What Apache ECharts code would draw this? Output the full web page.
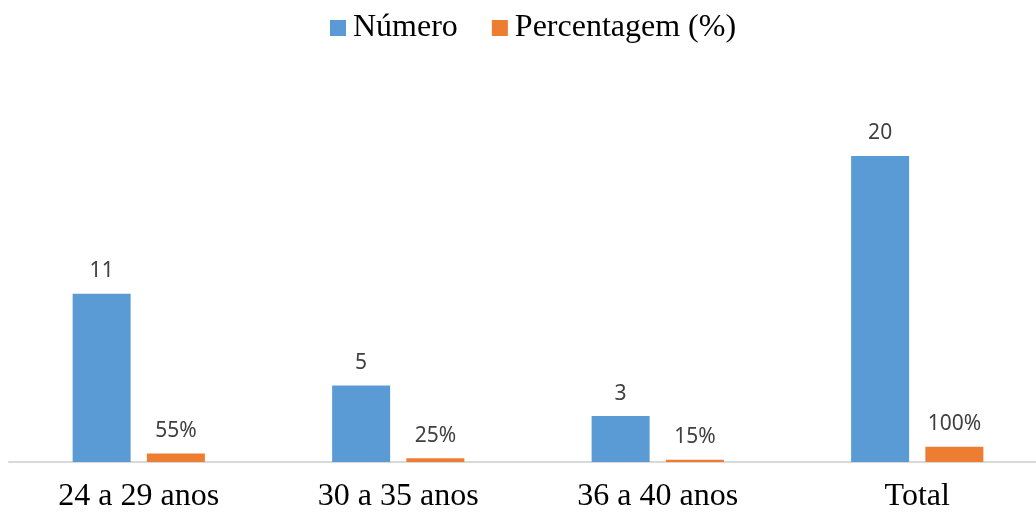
<!DOCTYPE html>
<html>
<head>
<meta charset="utf-8">
<script src="https://cdn.jsdelivr.net/npm/echarts@6/dist/echarts.min.js"></script>
<style>html,body{margin:0;padding:0;background:#fff;overflow:hidden}#c{width:1047px;height:513px}</style>
</head>
<body>
<div id="c"></div>
<script>
const categories = ['24 a 29 anos', '30 a 35 anos', '36 a 40 anos', 'Total'];
const numero = [11, 5, 3, 20];
const percentagem = [0.55, 0.25, 0.15, 1.00];
const seriesNames = ['Número', 'Percentagem (%)'];

const chart = echarts.init(document.getElementById('c'), null, {renderer: 'canvas'});
const labelStyle = {
  show: true, position: 'top', distance: 12,
  fontFamily: 'Noto Sans', fontSize: 21, color: '#404040'
};
chart.setOption({
  animation: false,
  legend: {
    left: 325, top: 7,
    itemWidth: 16, itemHeight: 16, itemGap: 34,
    icon: 'rect',
    textStyle: {fontFamily: 'Liberation Serif', fontSize: 32, color: '#000', padding: [0, 0, 0, 2]},
    data: seriesNames
  },
  grid: {left: 9, right: 0, top: 156, bottom: 51, containLabel: false},
  xAxis: {
    type: 'category', data: categories,
    axisLine: {lineStyle: {color: '#D9D9D9', width: 2}},
    axisTick: {show: false},
    axisLabel: {fontFamily: 'Liberation Serif', fontSize: 32, color: '#000', margin: 19}
  },
  yAxis: {type: 'value', min: 0, max: 20, show: false, splitLine: {show: false}},
  series: [
    {
      name: seriesNames[0], type: 'bar', data: numero,
      barWidth: 58, barGap: '28%',
      itemStyle: {color: '#5B9BD5'},
      label: labelStyle
    },
    {
      name: seriesNames[1], type: 'bar', data: percentagem,
      barWidth: 58,
      itemStyle: {color: '#ED7D31'},
      label: Object.assign({}, labelStyle, {formatter: p => Math.round(p.value * 100) + '%'})
    }
  ]
});
</script>
</body>
</html>
